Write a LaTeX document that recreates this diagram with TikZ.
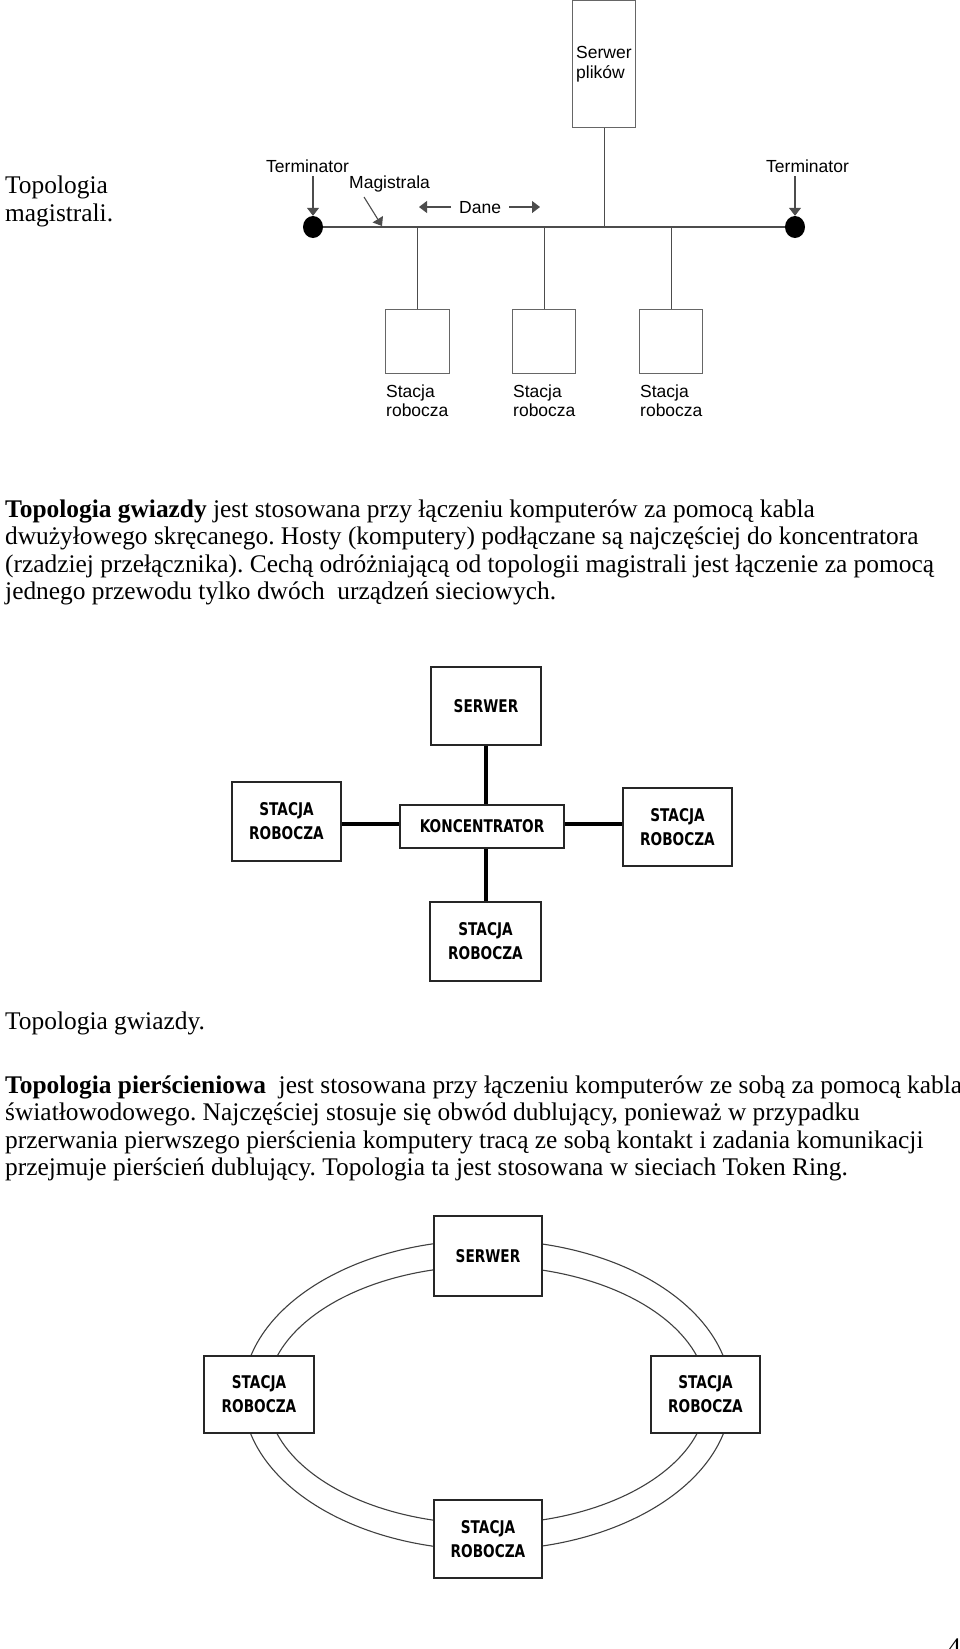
\documentclass[tikz,border=0pt]{standalone}
\usepackage{fontspec}
\setmainfont{Liberation Serif}
\newfontfamily\arialf{Liberation Sans}
\newfontfamily\boxf[FakeStretch=0.78]{DejaVu Sans Bold}
\usetikzlibrary{arrows.meta,shapes.geometric}
\frenchspacing
\tikzset{
  body/.style={anchor=base west, inner sep=0pt, font=\fontsize{25.4}{28}\selectfont},
  lbl/.style={anchor=base west, inner sep=0pt, font=\arialf\fontsize{17.5}{20}\selectfont},
  wire/.style={draw=black!70, line width=1.1pt},
  tip/.style={-{Triangle[width=12pt,length=8pt]}},
  wbox/.style={draw=black!60, line width=1.1pt, fill=white},
  sbox/.style={draw=black!85, line width=1.6pt, fill=white, inner sep=0pt,
    font=\boxf\fontsize{17.5}{24}\selectfont, align=center},
  thick wire/.style={draw=black, line width=4.5pt},
  ring/.style={draw=black!75, line width=1.1pt},
  term/.style={ellipse, fill=black, minimum width=20pt, minimum height=22pt, inner sep=0pt}
}
\begin{document}
\begin{tikzpicture}[x=1pt,y=-1pt]
\useasboundingbox (0,0) rectangle (960,1649);
\fill[white] (0,0) rectangle (960,1649);

% ---------- bus topology ----------
\node[body] (t1) at (5,193) {Topologia};
\node[body] (t2) at (5,221) {magistrali.};

\node[wbox, minimum width=63pt, minimum height=127pt, anchor=north west, inner sep=0pt] (srv1) at (572,0) {};
\node[lbl] (srvA) at (576,58) {Serwer};
\node[lbl] (srvB) at (576,78) {plików};

\coordinate (busL) at (313,227);
\coordinate (busR) at (795,227);
\draw[wire] (busL) -- (busR);

\node[wbox, minimum width=64pt, minimum height=64pt, anchor=north west, inner sep=0pt] (st1) at (385,309) {};
\node[wbox, minimum width=63pt, minimum height=64pt, anchor=north west, inner sep=0pt] (st2) at (512,309) {};
\node[wbox, minimum width=63pt, minimum height=64pt, anchor=north west, inner sep=0pt] (st3) at (639,309) {};

\draw[wire] (srv1.south) -- (srv1.south |- busL);
\draw[wire] (st1.north) -- (st1.north |- busL);
\draw[wire] (st2.north) -- (st2.north |- busL);
\draw[wire] (st3.north) -- (st3.north |- busL);

\node[term] (capL) at (busL) {};
\node[term] (capR) at (busR) {};

\node[lbl] (termL) at (266,172) {Terminator};
\node[lbl] (termR) at (766,172) {Terminator};
\draw[wire, tip] (capL |- termL.south) ++(0,4) -- (capL.north);
\draw[wire, tip] (capR |- termR.south) ++(0,4) -- (capR.north);

\node[lbl] (mag) at (349,188) {Magistrala};
\coordinate (magA) at (364,197);
\coordinate (magB) at (382,226);
\draw[wire, tip] (magA) -- (magB);

\node[lbl] (dane) at (459,213) {Dane};
\coordinate (daneL) at (419,207);
\coordinate (daneR) at (540,207);
\draw[wire, tip] (dane.west |- daneL) ++(-8,0) -- (daneL);
\draw[wire, tip] (dane.east |- daneR) ++(8,0) -- (daneR);

\node[lbl] at (386,397) {Stacja};
\node[lbl] at (386,416) {robocza};
\node[lbl] at (513,397) {Stacja};
\node[lbl] at (513,416) {robocza};
\node[lbl] at (640,397) {Stacja};
\node[lbl] at (640,416) {robocza};

% ---------- star text ----------
\node[body] at (5,517) {\textbf{Topologia gwiazdy} jest stosowana przy łączeniu komputerów za pomocą kabla};
\node[body] at (5,544.5) {dwużyłowego skręcanego. Hosty (komputery) podłączane są najczęściej do koncentratora};
\node[body] at (5,572) {(rzadziej przełącznika). Cechą odróżniającą od topologii magistrali jest łączenie za pomocą};
\node[body] at (5,599.5) {jednego przewodu tylko dwóch\ \ urządzeń sieciowych.};

% ---------- star topology ----------
\node[sbox, minimum width=110pt, minimum height=78pt] (sS) at (486,706) {SERWER};
\node[sbox, minimum width=109pt, minimum height=79pt] (sL) at (286.5,821.5) {STACJA\\ROBOCZA};
\node[sbox, minimum width=164pt, minimum height=43pt] (sK) at (482,826.5) {KONCENTRATOR};
\node[sbox, minimum width=109pt, minimum height=78pt] (sR) at (677.5,827) {STACJA\\ROBOCZA};
\node[sbox, minimum width=111pt, minimum height=79pt] (sB) at (485.5,941.5) {STACJA\\ROBOCZA};
\draw[thick wire] (sS.south) -- (sS.south |- sK.north);
\draw[thick wire] (sK.south -| sS) -- (sB.north -| sS);
\draw[thick wire] (sL.east |- 0,824) -- (sK.west |- 0,824);
\draw[thick wire] (sK.east |- 0,824) -- (sR.west |- 0,824);

\node[body] at (5,1029) {Topologia gwiazdy.};

% ---------- ring text ----------
\node[body] at (5,1093) {\textbf{Topologia pierścieniowa}\ \ jest stosowana przy łączeniu komputerów ze sobą za pomocą kabla};
\node[body] at (5,1120.5) {światłowodowego. Najczęściej stosuje się obwód dublujący, ponieważ w przypadku};
\node[body] at (5,1148) {przerwania pierwszego pierścienia komputery tracą ze sobą kontakt i zadania komunikacji};
\node[body] at (5,1175.5) {przejmuje pierścień dublujący. Topologia ta jest stosowana w sieciach Token Ring.};

% ---------- ring topology ----------
\coordinate (rc) at (487,1395);
\draw[ring] (rc) ellipse [x radius=244pt, y radius=155pt];
\draw[ring] (rc) ellipse [x radius=220pt, y radius=129pt];
\node[sbox, minimum width=108pt, minimum height=80pt] (rS) at (488,1256) {SERWER};
\node[sbox, minimum width=110pt, minimum height=77pt] (rL) at (259,1394.5) {STACJA\\ROBOCZA};
\node[sbox, minimum width=109pt, minimum height=77pt] (rR) at (705.5,1394.5) {STACJA\\ROBOCZA};
\node[sbox, minimum width=108pt, minimum height=78pt] (rB) at (488,1539) {STACJA\\ROBOCZA};

\node[body] (pg) at (948,1655) {4};
\end{tikzpicture}
\end{document}
